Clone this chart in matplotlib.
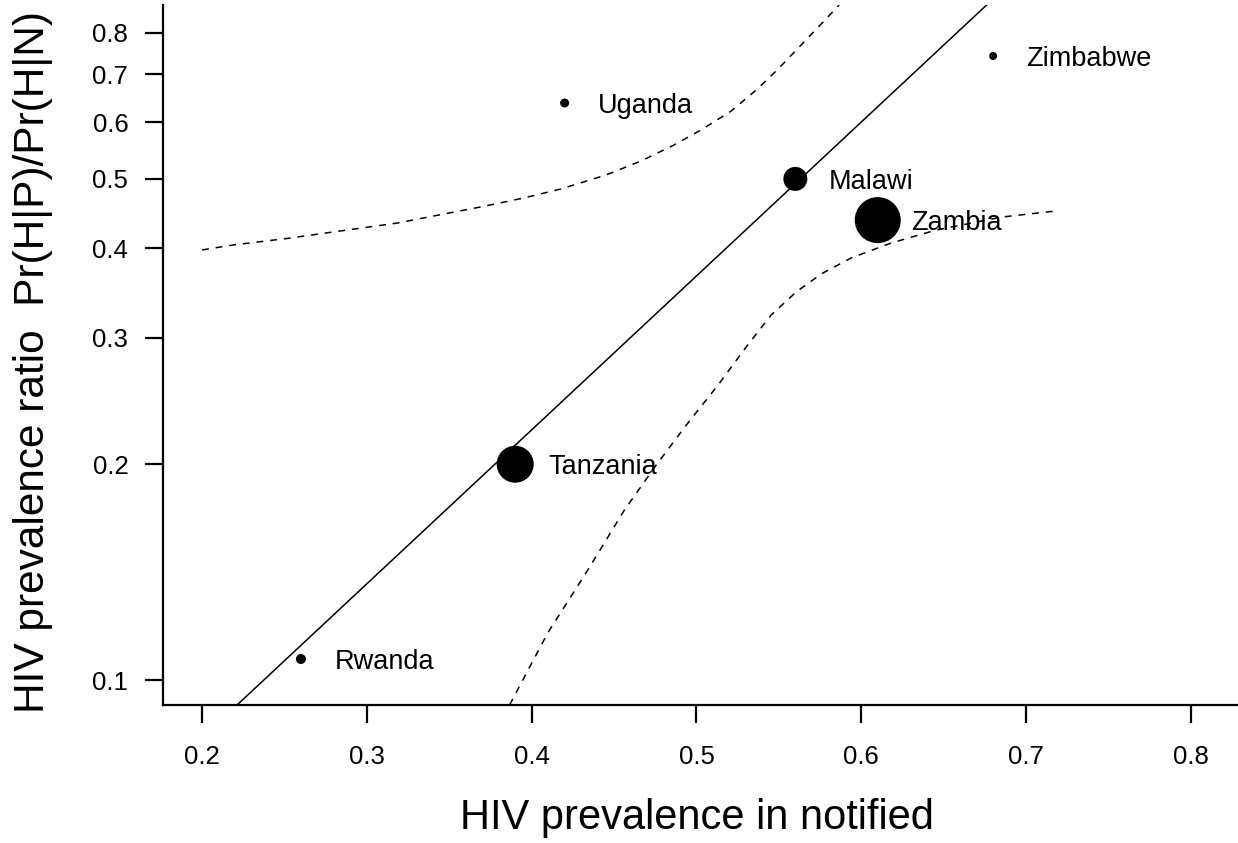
import matplotlib
matplotlib.use('Agg')
import matplotlib.pyplot as plt

plt.rcParams['font.family'] = ['Liberation Sans', 'DejaVu Sans']

# country points: HIV prevalence in notified vs prevalence ratio (log scale)
countries = ['Rwanda', 'Tanzania', 'Malawi', 'Zambia', 'Uganda', 'Zimbabwe']
prev_notified = [0.26, 0.39, 0.56, 0.61, 0.42, 0.68]
prev_ratio = [0.107, 0.200, 0.500, 0.438, 0.638, 0.742]
# dot diameter in pixels (weight of each country)
dot_px = [10, 37, 24, 46, 9, 8]

# fitted line (read at its two ends, clipped by the axes)
fit_x = [0.20, 0.72]
fit_y = [0.0831, 1.086]

# dashed bands
upper_x = [0.200, 0.2188, 0.2517, 0.2839, 0.3185, 0.3435, 0.369, 0.3951,
           0.4176, 0.445, 0.4663, 0.4863, 0.5027, 0.521, 0.5362, 0.5495,
           0.5617, 0.5739, 0.5866]
upper_y = [0.398, 0.4044, 0.413, 0.423, 0.4339, 0.4452, 0.4569, 0.4702,
           0.484, 0.5062, 0.5295, 0.5574, 0.5849, 0.6216, 0.665, 0.7113,
           0.761, 0.8141, 0.874]
lower_x = [0.3866, 0.4097, 0.434, 0.4559, 0.476, 0.4948, 0.5131, 0.5301,
           0.5453, 0.5605, 0.5757, 0.5939, 0.6182, 0.6456, 0.6851, 0.7179]
lower_y = [0.0923, 0.1163, 0.1423, 0.1721, 0.2001, 0.2283, 0.2579, 0.2913,
           0.3229, 0.3477, 0.3685, 0.3879, 0.407, 0.4243, 0.4423, 0.451]

xticks = [0.2, 0.3, 0.4, 0.5, 0.6, 0.7, 0.8]
yticks = [0.1, 0.2, 0.3, 0.4, 0.5, 0.6, 0.7, 0.8]

fig = plt.figure(figsize=(12.38, 8.43), dpi=100)
ax = fig.add_axes([163 / 1238, 1 - 705 / 843, 1 - 163 / 1238, 700 / 843])

ax.plot(fit_x, fit_y, color='black', lw=1.1)
ax.plot(upper_x, upper_y, color='black', lw=1.1, dashes=(4.5, 4.5))
ax.plot(lower_x, lower_y, color='black', lw=1.1, dashes=(4.5, 4.5))

sizes = [(d * 0.72) ** 2 for d in dot_px]
ax.scatter(prev_notified, prev_ratio, s=sizes, color='black', zorder=3, linewidths=0)

for name, x, y in zip(countries, prev_notified, prev_ratio):
    ax.annotate(name, (x, y), xytext=(24, 0), textcoords='offset points',
                ha='left', va='center_baseline', fontsize=19.5)

ax.set_yscale('log')
ax.set_xlim(0.1763, 0.8286)
ax.set_ylim(0.0923, 0.874)
ax.set_xticks(xticks)
ax.set_xticklabels([str(t) for t in xticks])
ax.set_yticks(yticks)
ax.set_yticklabels([str(t) for t in yticks])
ax.minorticks_off()

for side in ['top', 'right']:
    ax.spines[side].set_visible(False)
for side in ['left', 'bottom']:
    ax.spines[side].set_linewidth(1.6)

ax.tick_params(axis='both', length=13, width=1.6, labelsize=18.5)
ax.tick_params(axis='x', pad=16)
ax.tick_params(axis='y', pad=12)

ax.set_xlabel('HIV prevalence in notified', fontsize=30)
ax.xaxis.set_label_coords(0.497, -0.133)
ax.set_ylabel('HIV prevalence ratio  Pr(H|P)/Pr(H|N)', fontsize=30.5)
ax.yaxis.set_label_coords(-0.102, 0.49)

fig.savefig('out.png', dpi=100)
